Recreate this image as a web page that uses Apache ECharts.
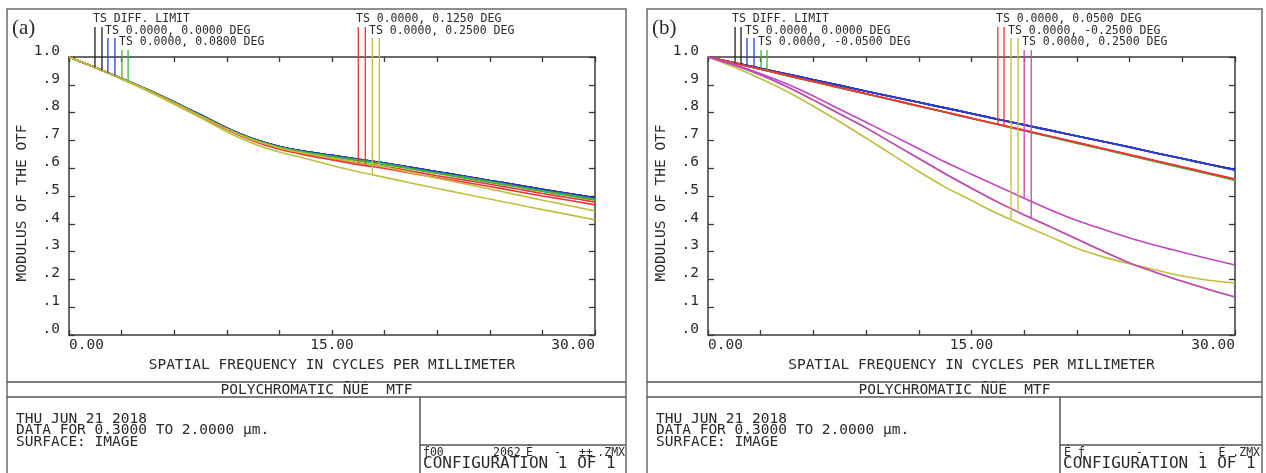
<!DOCTYPE html>
<html lang="en">
<head>
<meta charset="UTF-8" />
<title>Polychromatic MTF</title>
<script src="https://cdn.jsdelivr.net/npm/echarts@6/dist/echarts.min.js"></script>
<style>
  html, body { margin: 0; padding: 0; background: #fff; }
  #chart { width: 1266px; height: 473px; }
</style>
</head>
<body>
<div id="chart"></div>
<script>
// spatial frequency samples, cycles per mm
const freq = [0, 1.5, 3, 4.5, 6, 7.5, 9, 10.5, 12, 13.5, 15, 16.5, 18, 19.5, 21, 22.5, 24, 25.5, 27, 28.5, 30];

// ---- panel (a) ----
const aDiffT = [1.0, 0.962, 0.923, 0.882, 0.838, 0.792, 0.745, 0.706, 0.678, 0.660, 0.646, 0.632, 0.619, 0.603, 0.587, 0.572, 0.556, 0.540, 0.524, 0.509, 0.494];
const aDiffS = [1.0, 0.962, 0.923, 0.882, 0.838, 0.792, 0.745, 0.706, 0.678, 0.660, 0.646, 0.632, 0.619, 0.603, 0.587, 0.572, 0.556, 0.540, 0.524, 0.509, 0.494];
const aF1T = [1.0, 0.962, 0.923, 0.882, 0.838, 0.792, 0.745, 0.706, 0.678, 0.660, 0.646, 0.632, 0.619, 0.603, 0.587, 0.572, 0.556, 0.540, 0.524, 0.509, 0.493];
const aF1S = [1.0, 0.962, 0.923, 0.882, 0.838, 0.792, 0.745, 0.706, 0.678, 0.660, 0.646, 0.632, 0.618, 0.602, 0.586, 0.571, 0.555, 0.539, 0.523, 0.508, 0.492];
const aF2T = [1.0, 0.962, 0.923, 0.881, 0.837, 0.790, 0.743, 0.704, 0.676, 0.657, 0.643, 0.629, 0.616, 0.599, 0.583, 0.568, 0.552, 0.535, 0.519, 0.504, 0.488];
const aF2S = [1.0, 0.962, 0.922, 0.881, 0.836, 0.789, 0.742, 0.703, 0.674, 0.656, 0.641, 0.627, 0.613, 0.597, 0.581, 0.565, 0.549, 0.533, 0.516, 0.501, 0.485];
const aF3T = [1.0, 0.962, 0.922, 0.880, 0.835, 0.788, 0.740, 0.700, 0.671, 0.651, 0.635, 0.619, 0.606, 0.590, 0.573, 0.558, 0.542, 0.526, 0.509, 0.494, 0.478];
const aF3S = [1.0, 0.962, 0.922, 0.880, 0.835, 0.787, 0.739, 0.698, 0.668, 0.647, 0.630, 0.613, 0.599, 0.582, 0.566, 0.550, 0.534, 0.517, 0.500, 0.485, 0.468];
const aF4T = [1.0, 0.962, 0.922, 0.880, 0.835, 0.788, 0.741, 0.701, 0.673, 0.653, 0.636, 0.620, 0.604, 0.584, 0.564, 0.545, 0.525, 0.505, 0.485, 0.466, 0.446];
const aF4S = [1.0, 0.961, 0.920, 0.877, 0.830, 0.781, 0.731, 0.689, 0.658, 0.635, 0.610, 0.587, 0.567, 0.547, 0.527, 0.508, 0.489, 0.470, 0.451, 0.433, 0.414];

const aLegend = ['TS DIFF. LIMIT', 'TS 0.0000, 0.0000 DEG', 'TS 0.0000, 0.0800 DEG', 'TS 0.0000, 0.1250 DEG', 'TS 0.0000, 0.2500 DEG'];
// legend drop lines: frequency, top value, value where it meets the curve
const aMarkX = [1.48, 1.88, 2.22, 2.62, 3.02, 3.37, 16.5, 16.9, 17.3, 17.7];
const aMarkTop = [1.108, 1.108, 1.068, 1.068, 1.025, 1.025, 1.108, 1.108, 1.068, 1.068];
const aMarkEnd = [0.963, 0.952, 0.942, 0.933, 0.923, 0.913, 0.619, 0.609, 0.576, 0.607];

// ---- panel (b) ----
const bDiffT = [1.0, 0.979, 0.959, 0.939, 0.918, 0.898, 0.877, 0.857, 0.837, 0.817, 0.797, 0.776, 0.756, 0.736, 0.716, 0.696, 0.676, 0.655, 0.635, 0.614, 0.595];
const bDiffS = [1.0, 0.979, 0.959, 0.939, 0.918, 0.898, 0.877, 0.857, 0.837, 0.817, 0.797, 0.776, 0.756, 0.736, 0.716, 0.696, 0.676, 0.655, 0.635, 0.614, 0.595];
const bF1T = [1.0, 0.979, 0.959, 0.939, 0.918, 0.898, 0.877, 0.857, 0.837, 0.817, 0.797, 0.776, 0.756, 0.736, 0.716, 0.696, 0.676, 0.655, 0.635, 0.614, 0.594];
const bF1S = [1.0, 0.979, 0.959, 0.938, 0.918, 0.897, 0.877, 0.856, 0.836, 0.816, 0.796, 0.775, 0.755, 0.735, 0.715, 0.695, 0.675, 0.654, 0.634, 0.613, 0.593];
const bF2T = [1.0, 0.978, 0.956, 0.933, 0.911, 0.889, 0.867, 0.845, 0.823, 0.801, 0.779, 0.757, 0.735, 0.713, 0.690, 0.668, 0.646, 0.624, 0.602, 0.580, 0.557];
const bF2S = [1.0, 0.978, 0.956, 0.933, 0.911, 0.889, 0.867, 0.845, 0.823, 0.801, 0.779, 0.757, 0.735, 0.712, 0.690, 0.668, 0.646, 0.623, 0.601, 0.579, 0.556];
const bF3T = [1.0, 0.978, 0.956, 0.934, 0.912, 0.890, 0.868, 0.846, 0.824, 0.802, 0.780, 0.758, 0.736, 0.714, 0.692, 0.670, 0.648, 0.626, 0.604, 0.582, 0.560];
const bF3S = [1.0, 0.978, 0.956, 0.934, 0.912, 0.890, 0.868, 0.846, 0.824, 0.802, 0.780, 0.758, 0.737, 0.715, 0.693, 0.671, 0.649, 0.627, 0.605, 0.583, 0.561];
const bF4T = [1.0, 0.963, 0.922, 0.876, 0.823, 0.767, 0.708, 0.648, 0.588, 0.532, 0.484, 0.436, 0.394, 0.353, 0.312, 0.281, 0.256, 0.234, 0.212, 0.197, 0.187];
const bF4S = [1.0, 0.970, 0.935, 0.893, 0.845, 0.795, 0.745, 0.690, 0.635, 0.580, 0.528, 0.478, 0.432, 0.389, 0.345, 0.301, 0.259, 0.225, 0.193, 0.164, 0.137];
const bF5T = [1.0, 0.972, 0.940, 0.903, 0.860, 0.812, 0.765, 0.718, 0.670, 0.622, 0.578, 0.535, 0.492, 0.450, 0.412, 0.380, 0.349, 0.322, 0.298, 0.274, 0.252];
const bF5S = [1.0, 0.970, 0.935, 0.893, 0.845, 0.795, 0.745, 0.690, 0.635, 0.580, 0.528, 0.478, 0.432, 0.389, 0.345, 0.301, 0.259, 0.225, 0.193, 0.164, 0.137];

const bLegend = ['TS DIFF. LIMIT', 'TS 0.0000, 0.0000 DEG', 'TS 0.0000, -0.0500 DEG', 'TS 0.0000, 0.0500 DEG', 'TS 0.0000, -0.2500 DEG', 'TS 0.0000, 0.2500 DEG'];
const bMarkX = [1.54, 1.88, 2.22, 2.62, 3.02, 3.36, 16.5, 16.85, 17.25, 17.65, 18.0, 18.4];
const bMarkTop = [1.108, 1.108, 1.068, 1.068, 1.025, 1.025, 1.108, 1.108, 1.068, 1.068, 1.025, 1.025];
const bMarkEnd = [0.979, 0.974, 0.969, 0.964, 0.958, 0.952, 0.758, 0.753, 0.415, 0.443, 0.492, 0.421];

// ---- styles / layout ----
const COLORS = {
  black: '#1e1e1e', blue: '#2a3cd2', green: '#3cb83c',
  red: '#ef3535', yellow: '#bfbf3c', magenta: '#c445c4'
};
const aColors = ['black', 'blue', 'green', 'red', 'yellow'];
const bColors = ['black', 'blue', 'green', 'red', 'yellow', 'magenta'];
const aCurves = [[aDiffT, aDiffS], [aF1T, aF1S], [aF2T, aF2S], [aF3T, aF3S], [aF4T, aF4S]];
const bCurves = [[bDiffT, bDiffS], [bF1T, bF1S], [bF2T, bF2S], [bF3T, bF3S], [bF4T, bF4S], [bF5T, bF5S]];
const aLegendPos = [[93, 19.5], [105, 31], [119, 42.5], [356, 19.5], [369, 31]];
const bLegendPos = [[732, 19.5], [745, 31], [758, 42.5], [996, 19.5], [1008, 31], [1022, 42.5]];

const MONO = '"DejaVu Sans Mono", "Liberation Mono", monospace';
const INK = '#2a2a2a';

const chart = echarts.init(document.getElementById('chart'));

function pairs(ys) {
  return freq.map((f, i) => [f, ys[i]]);
}

function curveSeries(ax, curves, colors) {
  const out = [];
  curves.forEach((pair, k) => {
    pair.forEach(ys => {
      out.push({
        type: 'line', xAxisIndex: ax, yAxisIndex: ax,
        data: pairs(ys), smooth: 0.3,
        symbol: 'none', silent: true,
        lineStyle: { color: COLORS[colors[k]], width: 1.6 }
      });
    });
  });
  return out;
}

function markerSeries(ax, xs, tops, ends, colors) {
  return xs.map((x, i) => ({
    type: 'line', xAxisIndex: ax, yAxisIndex: ax,
    data: [[x, tops[i]], [x, ends[i]]],
    symbol: 'none', silent: true, clip: false,
    lineStyle: { color: COLORS[colors[Math.floor(i / 2)]], width: 1.3 }
  }));
}

function xAxes(grid) {
  const base = {
    type: 'value', gridIndex: grid, min: 0, max: 30, interval: 3,
    splitLine: { show: false },
    axisLine: { show: true, onZero: false, lineStyle: { color: '#3a3a3a', width: 1.5 } },
    axisTick: { show: true, inside: true, length: 5, lineStyle: { color: '#3a3a3a', width: 1.3 } }
  };
  return [
    Object.assign({}, base, {
      position: 'bottom',
      axisLabel: {
        show: true, margin: 3, color: INK, fontFamily: MONO, fontSize: 14.5,
        alignMinLabel: 'left', alignMaxLabel: 'right',
        formatter: v => (v === 0 ? '0.00' : v === 15 ? '15.00' : v === 30 ? '30.00' : '')
      },
      name: 'SPATIAL FREQUENCY IN CYCLES PER MILLIMETER',
      nameLocation: 'middle', nameGap: 24,
      nameTextStyle: { color: INK, fontFamily: MONO, fontSize: 14.5, verticalAlign: 'middle' }
    }),
    Object.assign({}, base, { position: 'top', axisLabel: { show: false } })
  ];
}

function yAxes(grid) {
  const base = {
    type: 'value', gridIndex: grid, min: 0, max: 1, interval: 0.1,
    splitLine: { show: false },
    axisLine: { show: true, onZero: false, lineStyle: { color: '#3a3a3a', width: 1.5 } },
    axisTick: { show: true, inside: true, length: 6, lineStyle: { color: '#3a3a3a', width: 1.3 } }
  };
  return [
    Object.assign({}, base, {
      position: 'left',
      axisLabel: {
        show: true, margin: 9, color: INK, fontFamily: MONO, fontSize: 14.5,
        verticalAlign: 'bottom', lineHeight: 12,
        formatter: v => (Math.round(v * 10) === 10 ? '1.0' : '.' + Math.round(v * 10))
      },
      name: 'MODULUS OF THE OTF',
      nameLocation: 'middle', nameGap: 47,
      nameTextStyle: {
        color: INK, fontFamily: MONO, fontSize: 14.5, verticalAlign: 'middle',
        padding: [0, 14, 0, 0]
      }
    }),
    Object.assign({}, base, { position: 'right', axisLabel: { show: false } })
  ];
}

function txt(x, y, text, size, align, family) {
  return {
    type: 'text', x: x, y: y, silent: true,
    style: {
      text: text, fill: INK,
      font: size + 'px ' + (family || MONO),
      textAlign: align || 'left', align: align || 'left',
      textVerticalAlign: 'middle', verticalAlign: 'middle'
    }
  };
}

function line(x1, y1, x2, y2) {
  return {
    type: 'line', silent: true,
    shape: { x1: x1, y1: y1, x2: x2, y2: y2 },
    style: { stroke: '#555', lineWidth: 1.5 }
  };
}

// frame, title block and text of one panel
function panelGraphics(left, right, tag, legend, legendPos, fileLine) {
  const g = [];
  const div = left + 413;
  g.push({
    type: 'rect', silent: true,
    shape: { x: left, y: 9, width: right - left, height: 480 },
    style: { fill: 'none', stroke: '#6a6a6a', lineWidth: 1.5 }
  });
  g.push(line(left, 382, right, 382));
  g.push(line(left, 397, right, 397));
  g.push(line(div, 397, div, 473));
  g.push(line(div, 445, right, 445));
  g.push(txt(left + 5, 28, tag, 21, 'left', '"Liberation Serif", "DejaVu Serif", serif'));
  legend.forEach((t, i) => g.push(txt(legendPos[i][0], legendPos[i][1], t, 11.5)));
  g.push(txt((left + right) / 2, 390, 'POLYCHROMATIC ÑÜÉ  MTF', 14.5, 'center'));
  g.push(txt(left + 9, 419, 'THU JUN 21 2018', 14.5));
  g.push(txt(left + 9, 430.5, 'DATA FOR 0.3000 TO 2.0000 µm.', 14.5));
  g.push(txt(left + 9, 442, 'SURFACE: IMAGE', 14.5));
  fileLine.forEach(p => g.push(txt(p[0], 453.5, p[1], 11.5, p[2])));
  g.push(txt(div + 3, 463.5, 'CONFIGURATION 1 OF 1', 16));
  return g;
}

const aFile = [[423, 'ƒ00', 'left'], [493, '2062', 'left'], [526, 'É', 'left'], [554, '-', 'left'], [579, '±±', 'left'], [625, '.ZMX', 'right']];
const bFile = [[1064, 'É', 'left'], [1078, 'ƒ', 'left'], [1136, '-', 'left'], [1260, '-  É .ZMX', 'right']];

const option = {
  animation: false,
  backgroundColor: '#fff',
  grid: [
    { left: 69, top: 57, width: 526, height: 278, outerBoundsMode: 'none' },
    { left: 708, top: 57, width: 527, height: 278, outerBoundsMode: 'none' }
  ],
  xAxis: xAxes(0).concat(xAxes(1)),
  yAxis: yAxes(0).concat(yAxes(1)),
  series: []
    .concat(curveSeries(0, aCurves, aColors))
    .concat(markerSeries(0, aMarkX, aMarkTop, aMarkEnd, aColors))
    .concat(curveSeries(2, bCurves, bColors))
    .concat(markerSeries(2, bMarkX, bMarkTop, bMarkEnd, bColors)),
  graphic: panelGraphics(7, 626, '(a)', aLegend, aLegendPos, aFile)
    .concat(panelGraphics(647, 1262, '(b)', bLegend, bLegendPos, bFile))
};

chart.setOption(option);
</script>
</body>
</html>
